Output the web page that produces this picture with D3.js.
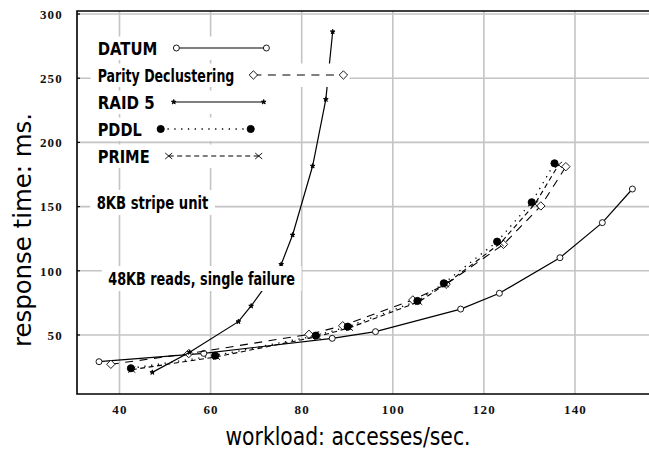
<!DOCTYPE html>
<html>
<head>
<meta charset="utf-8">
<script src="https://cdn.jsdelivr.net/npm/d3@7"></script>
<style>
  html, body { margin: 0; padding: 0; background: #fff; }
  svg { display: block; }
  .cond { font-family: "Liberation Sans Narrow", "DejaVu Sans Condensed", "Roboto Condensed", sans-serif; font-stretch: condensed; }
  .tick-label { font-family: "Liberation Serif", "DejaVu Serif", serif; font-weight: bold; font-size: 13px; letter-spacing: 1.2px; }
</style>
</head>
<body>
<svg id="chart" width="649" height="453"></svg>
<script>
// Response time vs. workload, 48KB reads with a single failed disk, 8KB stripe unit
const seriesNames = ["DATUM", "Parity Declustering", "RAID 5", "PDDL", "PRIME"];

const datumX = [35.5, 58.5, 86.7, 96.2, 114.9, 123.4, 136.7, 146.0, 152.6];
const datumY = [29.2, 35.7, 47.4, 52.6, 70.2, 82.5, 110.2, 137.5, 163.7];

const parityX = [38.1, 55.2, 81.6, 89.0, 104.4, 111.7, 124.3, 132.5, 138.0];
const parityY = [27.2, 35.5, 50.5, 57.2, 77.3, 89.5, 120.6, 150.5, 181.1];

const raid5X = [47.2, 55.4, 66.1, 68.9, 75.5, 78.0, 82.4, 85.3, 86.8];
const raid5Y = [20.9, 36.5, 60.4, 72.6, 105.0, 127.9, 181.6, 233.5, 286.2];

const pddlX = [42.5, 61.0, 83.1, 90.1, 105.4, 111.2, 122.9, 130.5, 135.5];
const pddlY = [24.1, 33.9, 49.5, 56.5, 76.5, 90.3, 122.7, 153.4, 183.7];

const primeX = [42.7, 61.3, 83.5, 90.5, 105.7, 111.6, 123.6, 131.2, 136.4];
const primeY = [23.0, 33.0, 48.8, 55.6, 75.8, 89.5, 121.5, 152.0, 182.5];

const xTicks = [40, 60, 80, 100, 120, 140];
const yTicks = [50, 100, 150, 200, 250, 300];

const xTitle = "workload:  accesses/sec.";
const yTitle = "response time:  ms.";
const notes = ["8KB stripe unit", "48KB reads, single failure"];

// ---- layout ----
const W = 649, H = 453;
const plot = { left: 77, right: 649, top: 11, bottom: 394 };

const x = d3.scaleLinear().domain([40, 140]).range([119.5, 575]);
const y = d3.scaleLinear().domain([0, 300]).range([399.2, 14]);

const svg = d3.select("#chart");

svg.append("defs").append("clipPath").attr("id", "plotClip")
  .append("rect")
  .attr("x", plot.left).attr("y", plot.top)
  .attr("width", plot.right - plot.left).attr("height", plot.bottom - plot.top);

// grid
const grid = svg.append("g").attr("stroke", "#c4c4c4").attr("stroke-width", 1.6);
grid.selectAll("line.v").data(xTicks).join("line")
  .attr("x1", d => x(d)).attr("x2", d => x(d))
  .attr("y1", plot.top).attr("y2", plot.bottom);
grid.selectAll("line.h").data(yTicks).join("line")
  .attr("y1", d => y(d)).attr("y2", d => y(d))
  .attr("x1", plot.left).attr("x2", plot.right);

// axes with their tick labels
const xAxis = d3.axisBottom(x).tickValues(xTicks).tickSize(0).tickPadding(0);
const gx = svg.append("g").attr("transform", `translate(0,${plot.bottom})`).call(xAxis);
gx.select(".domain").remove();
gx.selectAll("text").attr("class", "tick-label").attr("fill", "#111")
  .attr("y", 19.5).attr("dy", null);

const yAxis = d3.axisLeft(y).tickValues(yTicks).tickSize(0).tickPadding(0);
const gy = svg.append("g").attr("transform", `translate(${plot.left},0)`).call(yAxis);
gy.select(".domain").remove();
gy.selectAll("text").attr("class", "tick-label").attr("fill", "#111")
  .attr("x", -14).attr("dy", "0.33em");

// short inward tick marks on the left frame
svg.append("g").selectAll("line").data(yTicks).join("line")
  .attr("x1", plot.left).attr("x2", plot.left + 3)
  .attr("y1", d => y(d)).attr("y2", d => y(d))
  .attr("stroke", "#000").attr("stroke-width", 1.2);

// frame: left, top, bottom
svg.append("path")
  .attr("d", `M${plot.right},${plot.top}H${plot.left}V${plot.bottom}H${plot.right}`)
  .attr("fill", "none").attr("stroke", "#000").attr("stroke-width", 1.6);

// marker shapes
const markerPath = {
  circle: "M3,0A3,3 0 1,1 -3,0A3,3 0 1,1 3,0Z",
  diamond: "M0,-4.2L4.2,0L0,4.2L-4.2,0Z",
  dot: "M3.6,0A3.6,3.6 0 1,1 -3.6,0A3.6,3.6 0 1,1 3.6,0Z",
  cross: "M-3.5,-3L3.5,3M-3.5,3L3.5,-3",
  star: d3.symbol(d3.symbolStar, 7)()
};

const series = [
  { name: seriesNames[0], xs: datumX,  ys: datumY,  dash: null,      width: 1.2, marker: "circle",  fill: "#fff" },
  { name: seriesNames[1], xs: parityX, ys: parityY, dash: "8,6.5",   width: 1.1, marker: "diamond", fill: "#fff" },
  { name: seriesNames[2], xs: raid5X,  ys: raid5Y,  dash: null,      width: 1.2, marker: "star",    fill: "#000" },
  { name: seriesNames[3], xs: pddlX,   ys: pddlY,   dash: "1.3,5.5", width: 1.3, marker: "dot",     fill: "#000" },
  { name: seriesNames[4], xs: primeX,  ys: primeY,  dash: "5,3.5",   width: 1.1, marker: "cross",   fill: "none" }
];

const line = d3.line().x(d => x(d[0])).y(d => y(d[1]));

const dataLayer = svg.append("g").attr("clip-path", "url(#plotClip)");
series.forEach(s => {
  const pts = s.xs.map((v, i) => [v, s.ys[i]]);
  dataLayer.append("path")
    .attr("d", line(pts))
    .attr("fill", "none").attr("stroke", "#000")
    .attr("stroke-width", s.width)
    .attr("stroke-dasharray", s.dash);
  dataLayer.append("g").selectAll("path").data(pts).join("path")
    .attr("transform", d => `translate(${x(d[0])},${y(d[1])})`)
    .attr("d", markerPath[s.marker])
    .attr("fill", s.fill).attr("stroke", "#000").attr("stroke-width", 0.9);
});

// legend: each row sits on its own white box over the grid
const legendX = 97.7;
const legendBase = [55, 82, 109, 136, 163];
const legendLen = [59.7, 136.7, 57, 44, 52];
const legend = svg.append("g");
series.forEach((s, i) => {
  const row = legend.append("g");
  const box = row.append("rect").attr("fill", "#fff");
  row.append("text").attr("class", "cond")
    .attr("x", legendX).attr("y", legendBase[i])
    .attr("font-size", 18.5).attr("font-weight", "bold")
    .attr("textLength", legendLen[i]).attr("lengthAdjust", "spacingAndGlyphs")
    .text(s.name);
  const x0 = legendX + legendLen[i] + 19, x1 = x0 + 90, ly = legendBase[i] - 7;
  box.attr("x", legendX - 7).attr("y", ly - 11.5)
    .attr("width", x1 + 6 - (legendX - 7)).attr("height", 23.5);
  row.append("line")
    .attr("x1", x0).attr("x2", x1).attr("y1", ly).attr("y2", ly)
    .attr("stroke", "#000").attr("stroke-width", s.width)
    .attr("stroke-dasharray", s.dash);
  row.selectAll("path.m").data([x0, x1]).join("path")
    .attr("transform", d => `translate(${d},${ly})`)
    .attr("d", markerPath[s.marker])
    .attr("fill", s.fill).attr("stroke", "#000").attr("stroke-width", 0.9);
});

// annotations
const noteSpec = [
  { x: 96.7, base: 209, len: 111.7 },
  { x: 108.3, base: 285, len: 186.7 }
];
notes.forEach((txt, i) => {
  const n = noteSpec[i];
  svg.append("rect").attr("fill", "#fff")
    .attr("x", n.x - 6.5).attr("y", n.base - 19)
    .attr("width", n.len + 13).attr("height", 25);
  svg.append("text").attr("class", "cond")
    .attr("x", n.x).attr("y", n.base)
    .attr("font-size", 18.5).attr("font-weight", "bold")
    .attr("textLength", n.len).attr("lengthAdjust", "spacingAndGlyphs")
    .text(txt);
});

// axis titles
svg.append("text").attr("class", "cond")
  .attr("x", 348).attr("y", 445)
  .attr("text-anchor", "middle")
  .attr("font-size", 25)
  .attr("textLength", 245).attr("lengthAdjust", "spacingAndGlyphs")
  .text(xTitle);

svg.append("text").attr("class", "cond")
  .attr("transform", "translate(31,230) rotate(-90)")
  .attr("text-anchor", "middle")
  .attr("font-size", 25)
  .attr("textLength", 234).attr("lengthAdjust", "spacingAndGlyphs")
  .text(yTitle);
</script>
</body>
</html>
